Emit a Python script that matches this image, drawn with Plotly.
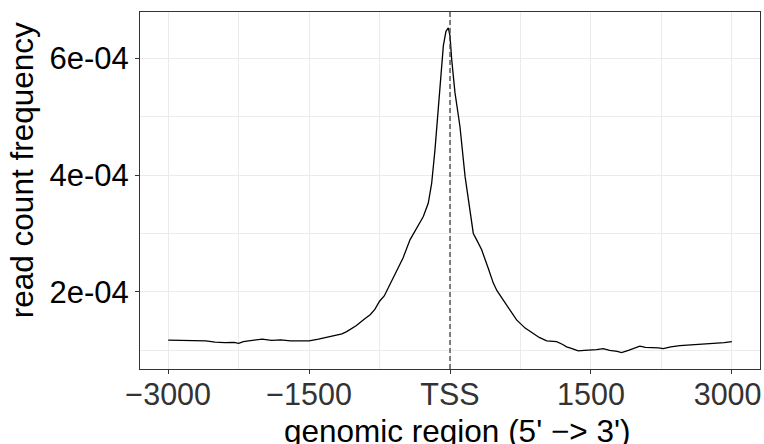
import plotly.graph_objects as go

# genomic position relative to TSS (bp)
positions = [-3000, -2900, -2800, -2700, -2600, -2500, -2400, -2300, -2250, -2200,
             -2100, -2000, -1900, -1800, -1700, -1600, -1500, -1400, -1300, -1200,
             -1150, -1100, -1000, -900, -850, -800, -750, -700, -650, -600,
             -567, -500, -426, -355, -284, -231, -195, -160, -124, -89,
             -71, -43, -18, 0, 18, 53, 106, 160, 213, 248,
             284, 337, 408, 461, 500, 567, 640, 709, 800, 887,
             950, 1029, 1135, 1200, 1241, 1300, 1365, 1430, 1507, 1560,
             1631, 1700, 1780, 1826, 1900, 1960, 2021, 2080, 2163, 2220,
             2270, 2350, 2447, 2550, 2660, 2750, 2837, 2920, 3000]
# read count frequency (x 1e-4)
freq_e4 = [1.175, 1.17, 1.17, 1.165, 1.16, 1.14, 1.13, 1.135, 1.12, 1.15,
           1.17, 1.19, 1.17, 1.18, 1.16, 1.165, 1.16, 1.19, 1.23, 1.27,
           1.28, 1.32, 1.42, 1.55, 1.61, 1.70, 1.84, 1.93, 2.10, 2.24,
           2.38, 2.58, 2.89, 3.09, 3.29, 3.52, 3.86, 4.43, 5.12, 5.81,
           6.21, 6.46, 6.52, 6.38, 5.98, 5.41, 4.83, 3.98, 3.40, 3.00,
           2.89, 2.72, 2.40, 2.15, 2.02, 1.86, 1.67, 1.52, 1.38, 1.29,
           1.22, 1.16, 1.15, 1.10, 1.06, 1.03, 0.99, 1.00, 1.00, 1.01,
           1.03, 1.00, 0.98, 0.96, 1.00, 1.04, 1.07, 1.05, 1.05, 1.04,
           1.03, 1.06, 1.08, 1.09, 1.11, 1.11, 1.13, 1.13, 1.15]
freq = [v * 1e-4 for v in freq_e4]

x_tickvals = [-3000, -1500, 0, 1500, 3000]
x_ticktext = ["\u22123000", "\u22121500", "TSS", "1500", "3000\u00a0"]
y_tickvals = [2e-4, 4e-4, 6e-4]
y_ticktext = ["2e-04", "4e-04", "6e-04"]
x_title = "genomic region (5' \u2212> 3')"
y_title = "read count frequency"

FONT = "Liberation Sans, Arial, sans-serif"

fig = go.Figure()
fig.add_trace(go.Scatter(x=positions, y=freq, mode="lines",
                         line=dict(color="black", width=1.3),
                         hoverinfo="skip", showlegend=False))

fig.add_vline(x=0, line=dict(color="#404040", width=1.3, dash="5px,3px"))

fig.update_layout(
    width=764, height=444,
    margin=dict(l=140, r=4, t=12, b=75, autoexpand=False),
    paper_bgcolor="white", plot_bgcolor="white",
    font=dict(family=FONT, color="black"),
    showlegend=False,
)
fig.update_xaxes(
    automargin=False,
    range=[-3300, 3300],
    tickvals=x_tickvals, ticktext=x_ticktext,
    tickfont=dict(size=30.5, color="#333333"),
    ticks="outside", ticklen=4, tickcolor="#333333", tickwidth=1,
    ticklabelstandoff=-6,
    ticklabeloverflow="allow",
    showgrid=True, gridcolor="#ebebeb", gridwidth=1,
    minor=dict(tickvals=[-2250, -750, 750, 2250], showgrid=True,
               gridcolor="#ebebeb", gridwidth=0.6, ticks=""),
    showline=True, linecolor="#333333", linewidth=1, mirror=True,
    zeroline=False,
)
fig.update_yaxes(
    automargin=False,
    range=[0.68e-4, 6.79e-4],
    tickvals=y_tickvals, ticktext=y_ticktext,
    tickfont=dict(size=31, color="black"),
    ticks="outside", ticklen=4, tickcolor="#333333", tickwidth=1,
    showgrid=True, gridcolor="#ebebeb", gridwidth=1,
    minor=dict(tickvals=[1e-4, 3e-4, 5e-4], showgrid=True,
               gridcolor="#ebebeb", gridwidth=0.6, ticks=""),
    showline=True, linecolor="#333333", linewidth=1, mirror=True,
    zeroline=False,
)

fig.add_annotation(text=x_title, xref="paper", yref="paper",
                   x=0.511, y=-0.1737, xanchor="center", yanchor="middle",
                   showarrow=False, font=dict(size=31.5, color="black"))
fig.add_annotation(text=y_title, xref="paper", yref="paper",
                   x=-0.190, y=0.5574, xanchor="center", yanchor="middle",
                   textangle=-90, showarrow=False, font=dict(size=31.5, color="black"))

fig.write_html(
    "out.html",
    config={"displayModeBar": False},
    post_script="document.body.style.margin='0';document.body.style.overflow='hidden';",
)
